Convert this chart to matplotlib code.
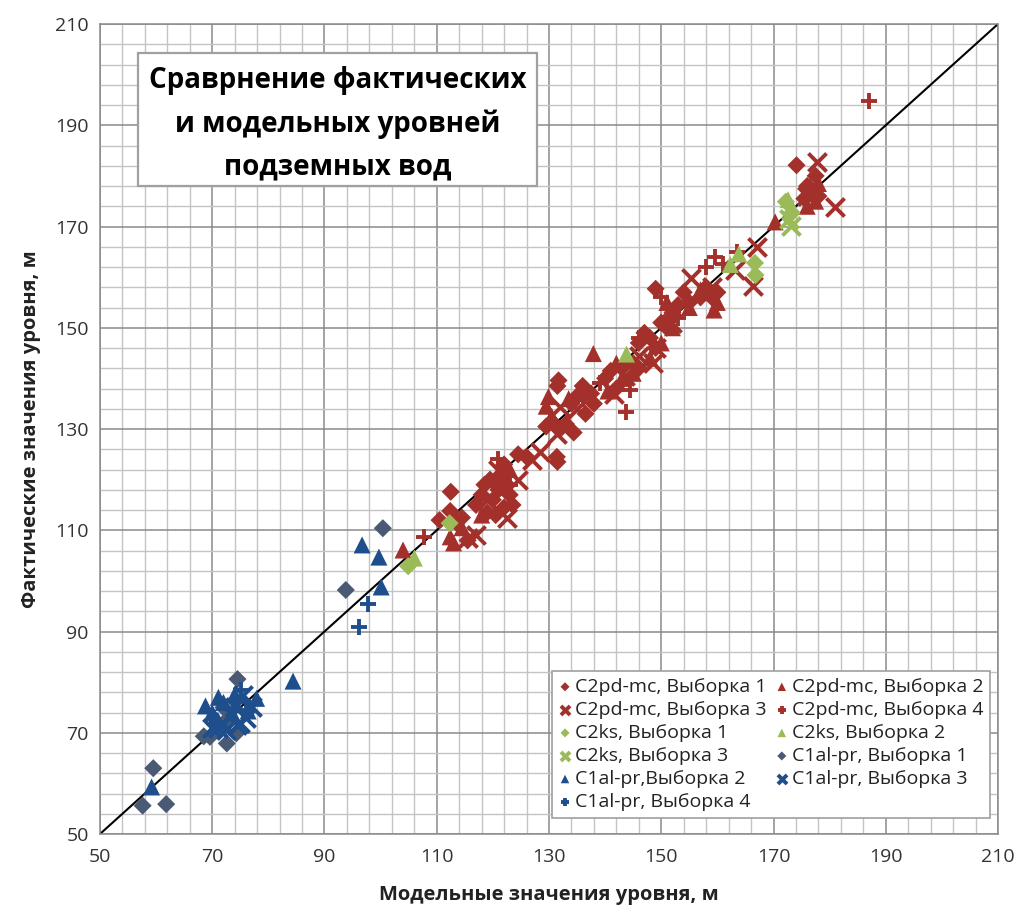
import matplotlib
matplotlib.use("Agg")
import matplotlib.pyplot as plt
from matplotlib.patches import Rectangle
import numpy as np

plt.rcParams['font.family'] = ['Open Sans', 'DejaVu Sans']

# ---------------- data ----------------
# C2pd-mc
c2pd_s1_x = [112.5, 112.4, 114.5, 115.5, 117, 118, 118.5, 119.5, 120, 121, 121.5, 122, 122.5, 123, 123.5, 122,
             120.5, 119, 124.5, 126, 131.4, 131.5, 131.7, 131.5, 134.4, 133, 134, 135, 136, 137.5, 138, 136.5,
             140, 141, 142, 143, 145, 146, 147, 148, 149, 149, 150, 151, 152, 153, 154, 155, 157, 158, 159, 160,
             146, 174.1, 176, 177, 175.5, 177.5, 178, 129.5, 130.5, 132, 113.5, 110.5]
c2pd_s1_y = [117.6, 113.8, 112.5, 108, 115, 117, 119, 120, 116, 118, 121, 123, 119, 117, 115, 114.5,
             113, 113.5, 125, 124.5, 124.5, 123.5, 139.6, 138.5, 129.3, 131, 135, 136.5, 138.5, 137, 135, 133,
             140, 141.5, 138, 142, 143, 147, 149, 148, 157.7, 146, 151, 150, 153, 154.5, 157, 155, 156, 158, 156, 157,
             142, 182.1, 178, 177, 175.5, 180, 176, 130.5, 131.5, 130, 111.5, 112]

c2pd_s2_x = [104, 112.4, 113, 114.5, 129.9, 129.5, 130.5, 137.9, 170.3, 159.4, 160, 148, 150, 152, 143, 145,
             142, 121, 123, 118, 133.5, 176, 177.5, 176.5, 178, 155, 157, 140.5, 151]
c2pd_s2_y = [106.1, 108.7, 107.5, 110.5, 136.4, 134.5, 132.5, 144.9, 170.9, 153.5, 155, 144, 147, 150, 140, 141,
             143, 120, 122, 113, 136, 174, 175, 178, 178.5, 154, 157.5, 137.5, 155]

c2pd_s3_x = [122.6, 117, 127, 128.4, 132, 131.5, 155.3, 166.3, 167, 163.1, 177.7, 181, 141.5, 146, 149, 152,
             119, 121, 135, 143.5, 159, 176, 124.5, 148.5, 115.5]
c2pd_s3_y = [112.5, 109, 123.8, 125.5, 134.4, 129, 159.8, 158.3, 166, 161.4, 182.8, 173.9, 137, 144.5, 146, 151,
             116, 122, 134, 140.5, 158, 176, 120, 143, 108.5]

c2pd_s4_x = [187, 143.8, 144.5, 107.7, 159.5, 150, 158, 161, 136, 146, 123, 121, 153, 139, 163.5]
c2pd_s4_y = [194.7, 133.3, 137.8, 108.7, 164, 156, 162, 162.5, 136, 148, 119, 124, 152, 139, 165]

# C2ks
c2ks_s1_x = [104.9, 112.3, 166.7, 166.8, 172.2, 173.2]
c2ks_s1_y = [102.9, 111.4, 162.8, 160.4, 174.9, 172.6]
c2ks_s2_x = [106, 143.8, 162.3, 163.8, 172.6]
c2ks_s2_y = [104.5, 144.8, 162.5, 164.6, 175.3]
c2ks_s3_x = [173.1, 172.8]
c2ks_s3_y = [170.1, 171.5]

# C1al-pr
c1al_s1_x = [57.6, 59.5, 61.8, 74.5, 72.6, 74.3, 69.6, 68.5, 71, 73, 93.8, 100.4, 72]
c1al_s1_y = [55.6, 63.0, 55.9, 80.6, 67.9, 69.9, 69.2, 69.3, 71, 73, 98.2, 110.4, 75]
c1al_s2_x = [59.2, 84.4, 96.7, 99.7, 100.1, 71.1, 68.8, 77.9, 76.4, 70, 72, 73.5, 71, 74, 70.5]
c1al_s2_y = [59.3, 80.2, 107.1, 104.7, 98.8, 77.0, 75.3, 76.8, 74.3, 74, 76, 74, 72.5, 77.5, 73]
c1al_s3_x = [72, 74, 75.5, 76, 71, 73.5, 70, 75, 77, 72.5, 74.5]
c1al_s3_y = [72, 75, 77.5, 73, 71, 73.5, 71, 72, 75, 70.5, 71.5]
c1al_s4_x = [96.1, 97.8, 75.2, 74.5, 76]
c1al_s4_y = [90.9, 95.4, 78.4, 76, 74.5]

labels = ["C2pd-mc, Выборка 1", "C2pd-mc, Выборка 2", "C2pd-mc, Выборка 3", "C2pd-mc, Выборка 4",
          "C2ks, Выборка 1", "C2ks, Выборка 2", "C2ks, Выборка 3",
          "C1al-pr, Выборка 1", "C1al-pr,Выборка 2", "C1al-pr, Выборка 3", "C1al-pr, Выборка 4"]

major_ticks = [50, 70, 90, 110, 130, 150, 170, 190, 210]

title_text = "Сраврнение фактических\nи модельных уровней\nподземных вод"
xlabel = "Модельные значения уровня, м"
ylabel = "Фактические значения уровня, м"

# ---------------- plot ----------------
RED = '#A3302B'
GREEN = '#9BBB59'
SLATE = '#4A5A75'
BLUE = '#1F4E8C'

fig = plt.figure(figsize=(10.21, 9.16), dpi=100)
ax = fig.add_axes([0.0979, 0.0895, 0.8796, 0.8843])
ax.set_xlim(50, 210)
ax.set_ylim(50, 210)

ax.set_xticks(major_ticks)
ax.set_yticks(major_ticks)
ax.set_xticks(np.arange(50, 211, 4), minor=True)
ax.set_yticks(np.arange(50, 211, 4), minor=True)
ax.grid(which='minor', color='#C4C4C4', linewidth=1.0, zorder=0)
ax.grid(which='major', color='#8A8A8A', linewidth=1.1, zorder=0)
ax.set_axisbelow(True)
for s in ax.spines.values():
    s.set_color('#8A8A8A')
    s.set_linewidth(1.1)
ax.tick_params(which='both', length=0, labelsize=14, colors='#333333', pad=8)
ax.tick_params(axis='x', pad=10)

ax.plot([50, 210], [50, 210], color='black', linewidth=1.5, zorder=1.5)

series = [
    (c2pd_s1_x, c2pd_s1_y, 'D', RED, 85, 0),
    (c2pd_s2_x, c2pd_s2_y, '^', RED, 150, 0),
    (c2pd_s3_x, c2pd_s3_y, 'x', RED, 170, 2.8),
    (c2pd_s4_x, c2pd_s4_y, '+', RED, 120, 2.8),
    (c2ks_s1_x, c2ks_s1_y, 'D', GREEN, 85, 0),
    (c2ks_s2_x, c2ks_s2_y, '^', GREEN, 150, 0),
    (c2ks_s3_x, c2ks_s3_y, 'x', GREEN, 170, 2.8),
    (c1al_s1_x, c1al_s1_y, 'D', SLATE, 85, 0),
    (c1al_s2_x, c1al_s2_y, '^', BLUE, 150, 0),
    (c1al_s3_x, c1al_s3_y, 'x', BLUE, 170, 2.8),
    (c1al_s4_x, c1al_s4_y, '+', BLUE, 120, 2.8),
]
handles = []
for (xs, ys, m, c, s, lw), lab in zip(series, labels):
    if m in ('x', '+'):
        h = ax.scatter(xs, ys, marker=m, s=s, color=c, linewidths=lw, label=lab, zorder=3)
    else:
        h = ax.scatter(xs, ys, marker=m, s=s, color=c, edgecolors='none', label=lab, zorder=3)
    handles.append(h)

order = [0, 2, 4, 6, 8, 10, 1, 3, 5, 7, 9]
leg = ax.legend([handles[i] for i in order], [labels[i] for i in order], ncol=2,
                loc='lower right', bbox_to_anchor=(0.991, 0.0198), borderaxespad=0,
                fontsize=14, markerscale=0.5, handlelength=0.6, handletextpad=0.2,
                columnspacing=0.5, labelspacing=0.26, borderpad=0.35, fancybox=False,
                framealpha=1, edgecolor='#A0A0A0', scatterpoints=1)
leg.get_frame().set_linewidth(1.2)
for t in leg.get_texts():
    t.set_color('#222222')

# title box
ax.add_patch(Rectangle((0.0423, 0.80), 0.4443, 0.164, transform=ax.transAxes,
                       facecolor='white', edgecolor='#A0A0A0', linewidth=1.6, zorder=4))
ax.text(0.2645, 0.877, title_text, transform=ax.transAxes, ha='center', va='center',
        fontsize=20, fontweight='bold', linespacing=1.62, zorder=5, color='black')

ax.set_xlabel(xlabel, fontsize=14.5, fontweight='bold', labelpad=14, color='#222222')
ax.set_ylabel(ylabel, fontsize=14.5, fontweight='bold', labelpad=10, color='#222222')

fig.savefig('out.png', dpi=100, facecolor='white')
